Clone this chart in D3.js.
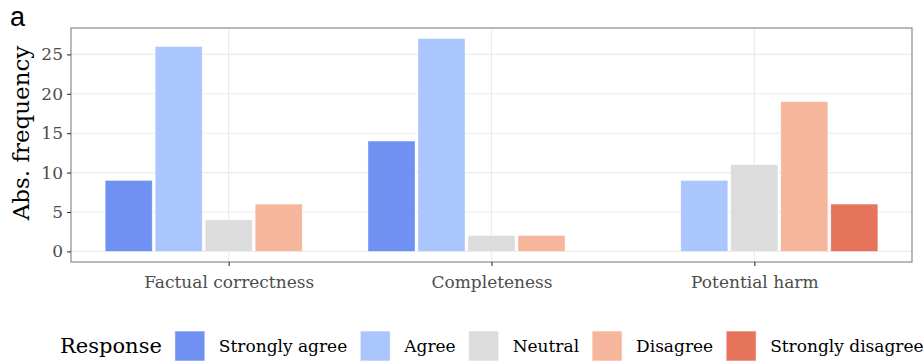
<!DOCTYPE html>
<html>
<head>
<meta charset="utf-8">
<script src="https://cdn.jsdelivr.net/npm/d3@7"></script>
<style>
  html, body { margin: 0; padding: 0; background: #fff; }
  svg { display: block; }
  .serif { font-family: "DejaVu Serif", "Liberation Serif", serif; }
</style>
</head>
<body>
<svg id="chart" width="923" height="362"></svg>
<script>
// Survey responses per evaluation criterion
const criteria = ["Factual correctness", "Completeness", "Potential harm"];
const responses = ["Strongly agree", "Agree", "Neutral", "Disagree", "Strongly disagree"];
const stronglyAgree    = [9, 14, 0];
const agree            = [26, 27, 9];
const neutral          = [4, 2, 11];
const disagree         = [6, 2, 19];
const stronglyDisagree = [0, 0, 6];
const yTicks = [0, 5, 10, 15, 20, 25];
const responseColors = ["#6f91f2", "#aac6fc", "#dcdcdc", "#f5b69b", "#e6745c"];

const seriesByResponse = [stronglyAgree, agree, neutral, disagree, stronglyDisagree];
const rows = [];
criteria.forEach((c, ci) => {
  responses.forEach((r, ri) => rows.push({ criterion: c, response: r, value: seriesByResponse[ri][ci] }));
});

const svg = d3.select("#chart");
const panel = { left: 71, right: 912, top: 28, bottom: 262 };

// discrete x axis with ggplot-style expansion of 0.6 units on either side
const x = d3.scalePoint().domain(criteria)
  .range([panel.left, panel.right]).padding(0.6);
const yMax = d3.max(rows, d => d.value);
const y = d3.scaleLinear().domain([-0.05 * yMax, yMax * 1.05])
  .range([panel.bottom, panel.top]);

const groupWidth = x.step() * 0.94;
const xInner = d3.scaleBand().domain(responses)
  .range([-groupWidth / 2, groupWidth / 2]).paddingInner(0.06);
const color = d3.scaleOrdinal().domain(responses).range(responseColors);

// panel grid
const g = svg.append("g");
g.selectAll(".hgrid").data(yTicks).join("line")
  .attr("x1", panel.left).attr("x2", panel.right)
  .attr("y1", d => y(d)).attr("y2", d => y(d))
  .attr("stroke", "#ebebeb").attr("stroke-width", 1.1);
g.selectAll(".vgrid").data(criteria).join("line")
  .attr("x1", d => x(d)).attr("x2", d => x(d))
  .attr("y1", panel.top).attr("y2", panel.bottom)
  .attr("stroke", "#ebebeb").attr("stroke-width", 1.1);

// bars
g.selectAll("rect.bar").data(rows.filter(d => d.value > 0)).join("rect")
  .attr("class", "bar")
  .attr("x", d => x(d.criterion) + xInner(d.response))
  .attr("width", xInner.bandwidth())
  .attr("y", d => y(d.value))
  .attr("height", d => y(0) - y(d.value))
  .attr("fill", d => color(d.response))
  .attr("stroke", "#ffffff").attr("stroke-opacity", 0.6).attr("stroke-width", 0.6);

// panel border
g.append("rect")
  .attr("x", panel.left).attr("y", panel.top)
  .attr("width", panel.right - panel.left).attr("height", panel.bottom - panel.top)
  .attr("fill", "none").attr("stroke", "#8a8a8a").attr("stroke-width", 1.2);

// axes
const yAxis = svg.append("g").attr("transform", `translate(${panel.left},0)`)
  .call(d3.axisLeft(y).tickValues(yTicks).tickSize(4).tickPadding(4));
const xAxis = svg.append("g").attr("transform", `translate(0,${panel.bottom})`)
  .call(d3.axisBottom(x).tickSize(4).tickPadding(6));
[yAxis, xAxis].forEach(a => {
  a.select(".domain").remove();
  a.selectAll(".tick line").attr("stroke", "#333").attr("stroke-width", 1.1);
  a.selectAll(".tick text").attr("class", "serif").attr("fill", "#4d4d4d").style("font-size", "16px");
});
yAxis.selectAll(".tick text").style("font-size", "17px");
xAxis.selectAll(".tick text").style("font-size", "17px").attr("dy", "0.95em");

// y axis title
svg.append("text").attr("class", "serif")
  .attr("transform", `translate(29,${(panel.top + panel.bottom) / 2 - 12}) rotate(-90)`)
  .attr("text-anchor", "middle")
  .style("font-size", "23px").attr("fill", "#000")
  .text("Abs. frequency");

// panel tag
svg.append("text")
  .attr("x", 10).attr("y", 26)
  .style("font-family", "'Liberation Sans', Arial, sans-serif")
  .style("font-size", "27px").attr("fill", "#000")
  .text("a");

// legend
const legend = svg.append("g").attr("transform", "translate(0,346)");
const title = legend.append("text").attr("class", "serif")
  .attr("x", 60).attr("dy", "0.35em")
  .style("font-size", "21px").text("Response");
let cursor = 60 + title.node().getComputedTextLength() + 13;
responses.forEach(r => {
  legend.append("rect")
    .attr("x", cursor).attr("y", -15).attr("width", 30).attr("height", 30)
    .attr("fill", color(r)).attr("stroke", "#fff").attr("stroke-opacity", 0.6);
  const t = legend.append("text").attr("class", "serif")
    .attr("x", cursor + 44).attr("dy", "0.35em")
    .style("font-size", "17px").text(r);
  cursor += 44 + t.node().getComputedTextLength() + 13;
});
</script>
</body>
</html>
